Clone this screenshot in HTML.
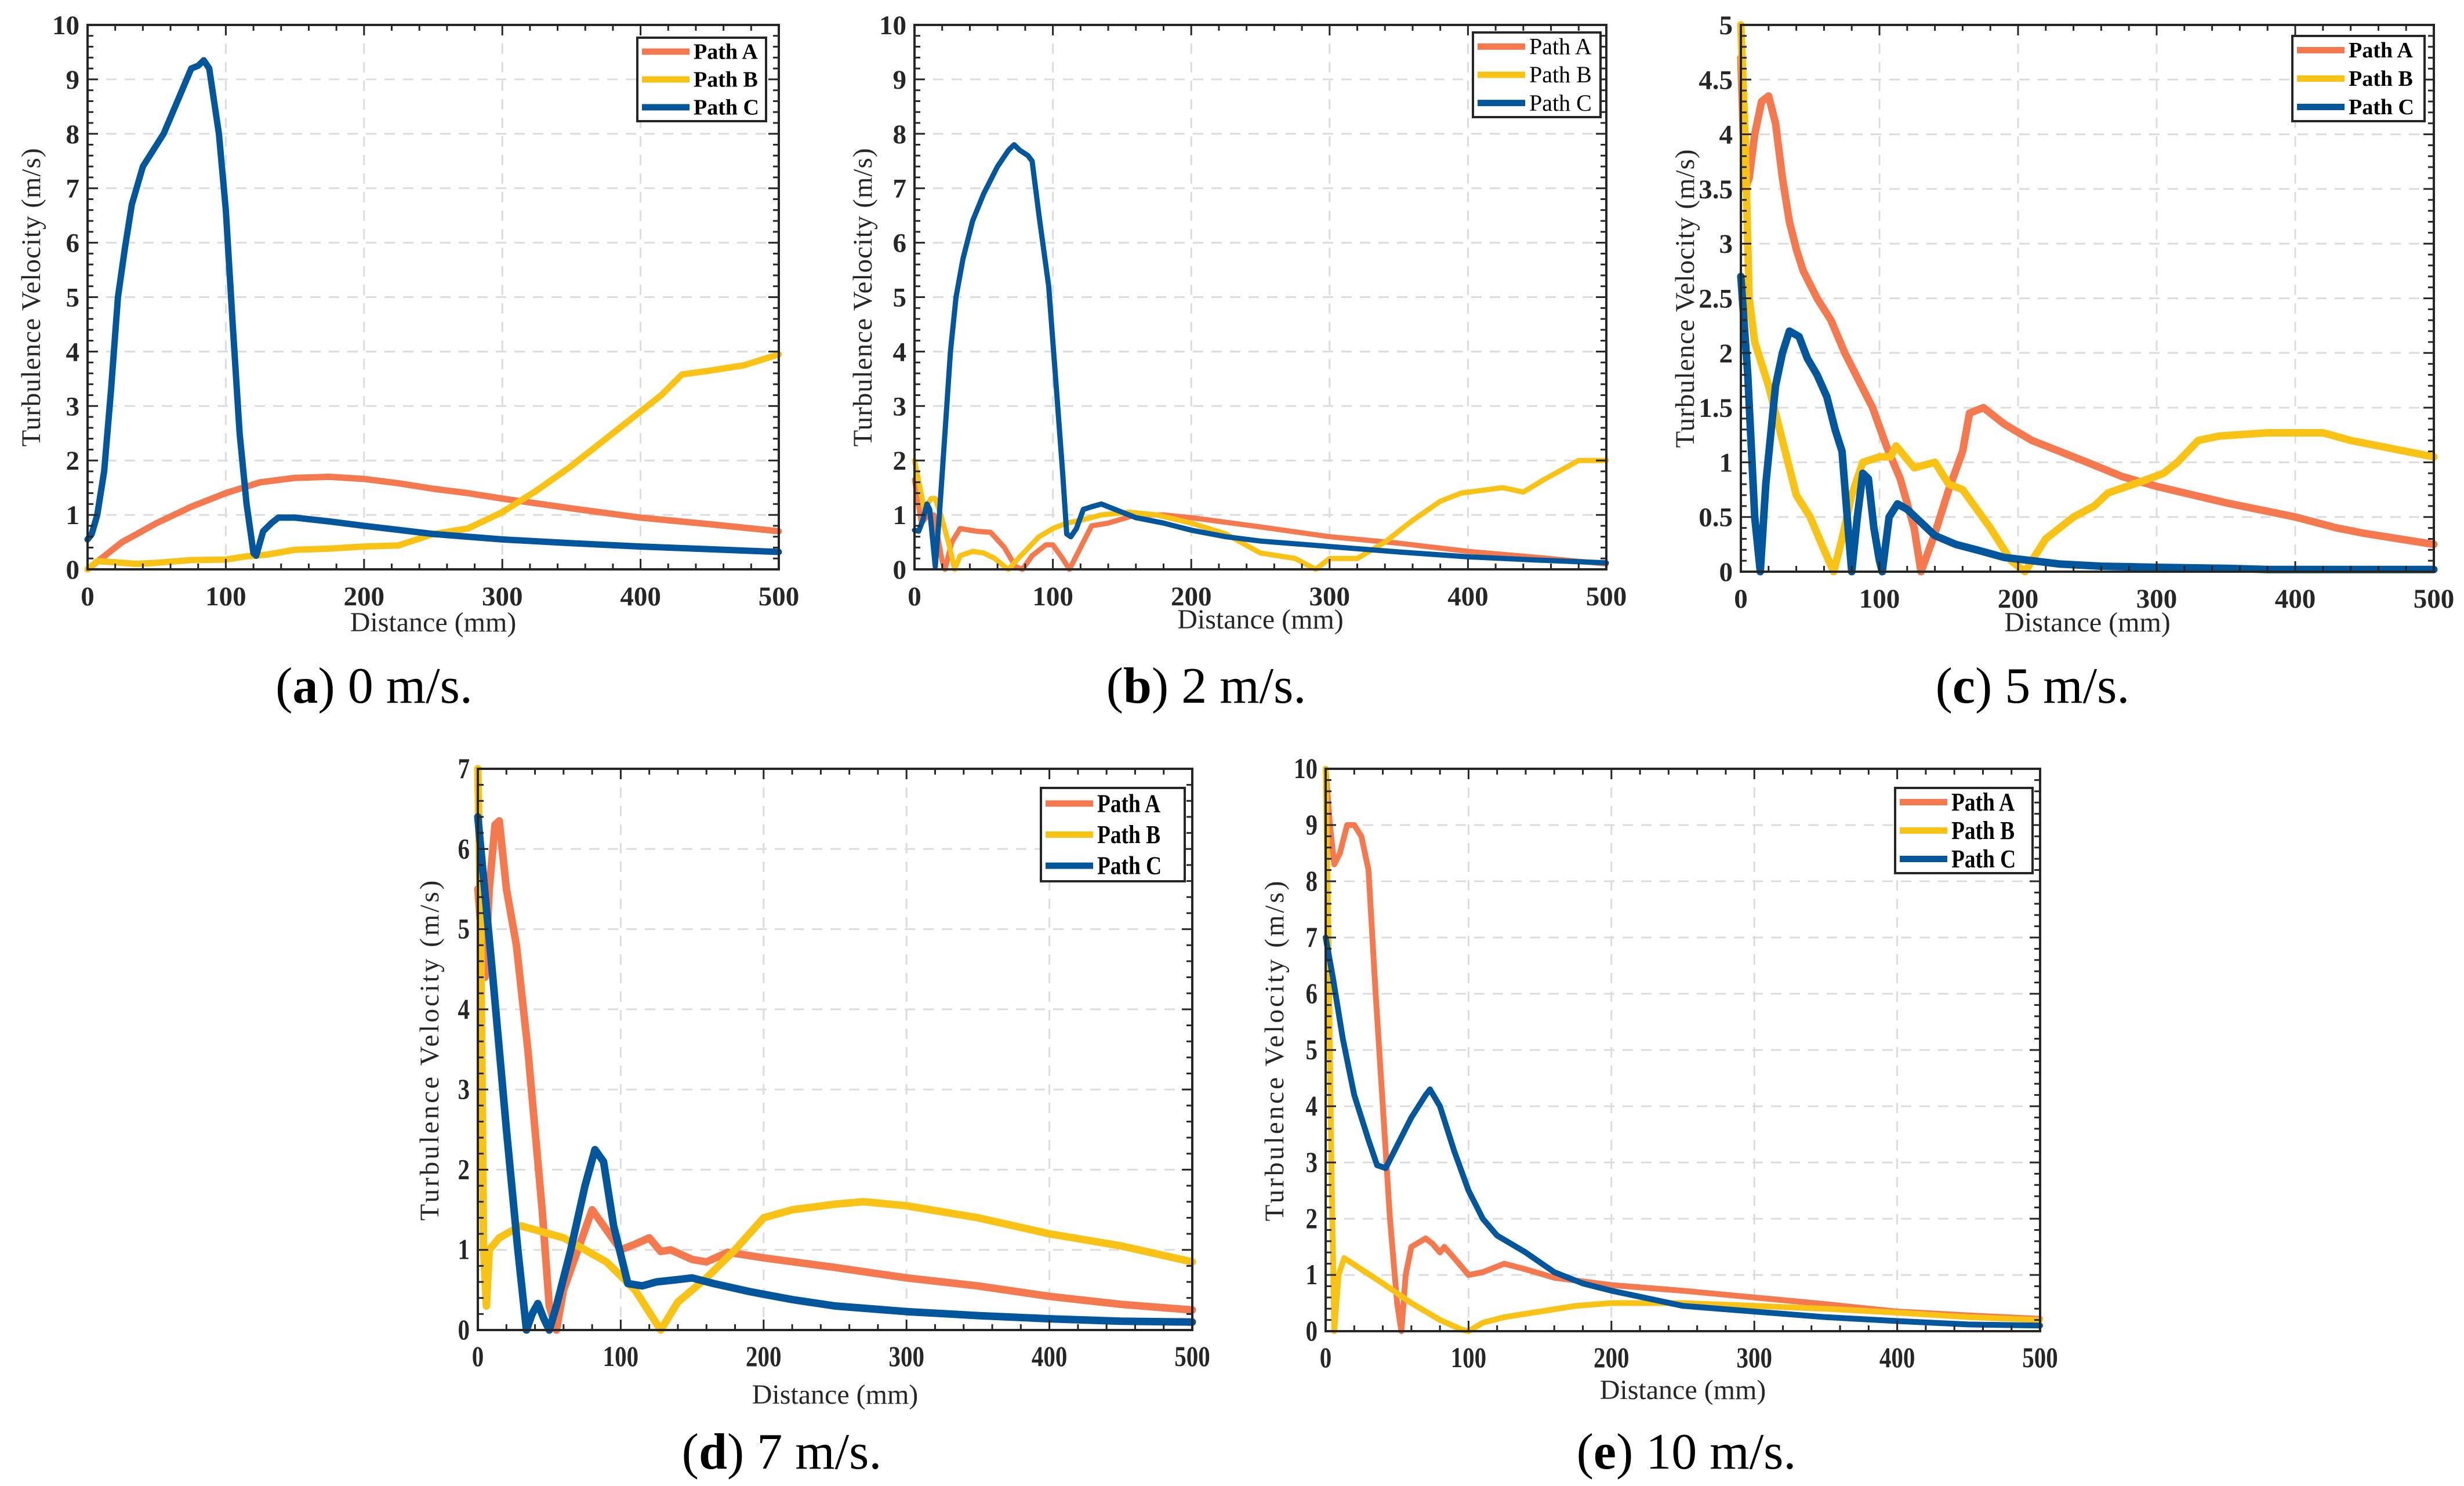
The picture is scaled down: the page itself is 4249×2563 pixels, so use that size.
<!DOCTYPE html>
<html><head><meta charset="utf-8">
<style>
html,body{margin:0;padding:0;background:#fff;}
body{width:4249px;height:2563px;overflow:hidden;position:relative;}
svg{position:absolute;left:0;top:0;}
</style></head>
<body>
<svg id="fig" width="4249" height="2563" viewBox="0 0 4249 2563" xmlns="http://www.w3.org/2000/svg"></svg>
<script>
// ---------- DATA ----------
const seriesNames = ["Path A","Path B","Path C"];
// Panel (a) 0 m/s
const aA_x=[0,10,25,50,75,100,125,150,175,200,225,250,275,300,350,400,450,500];
const aA_y=[0,0.2,0.5,0.85,1.15,1.4,1.6,1.68,1.7,1.66,1.58,1.48,1.4,1.3,1.12,0.95,0.83,0.7];
const aB_x=[0,7,20,35,50,75,100,115,130,150,175,200,225,250,275,300,325,350,375,400,415,430,450,475,500];
const aB_y=[0,0.15,0.13,0.1,0.12,0.17,0.18,0.24,0.27,0.36,0.38,0.42,0.44,0.65,0.75,1.05,1.45,1.9,2.4,2.9,3.2,3.58,3.65,3.75,3.95];
const aC_x=[0,3,7,12,17,22,27,32,40,45,55,65,75,80,84,88,95,100,105,110,115,120,122,127,133,138,150,175,200,250,300,350,400,450,500];
const aC_y=[0.55,0.65,1.0,1.8,3.3,5.0,5.9,6.7,7.4,7.6,8.0,8.6,9.2,9.25,9.35,9.2,8.0,6.6,4.5,2.5,1.2,0.3,0.25,0.7,0.85,0.95,0.95,0.88,0.8,0.65,0.55,0.48,0.42,0.37,0.32];
// Panel (b) 2 m/s
const bA_x=[0,5,10,14,20,22,27,33,40,45,55,65,73,78,85,95,100,107,112,120,128,140,160,180,200,250,300,350,400,450,500];
const bA_y=[1.65,0.85,1.0,1.0,0.15,0,0.5,0.75,0.72,0.7,0.68,0.4,0.05,0,0.25,0.45,0.45,0.2,0,0.4,0.8,0.85,1.0,1.0,0.95,0.78,0.6,0.48,0.33,0.22,0.1];
const bB_x=[0,4,7,12,15,19,25,29,33,42,50,58,65,68,75,90,100,110,120,135,155,175,200,225,250,275,290,300,320,340,360,380,395,410,425,440,455,480,500];
const bB_y=[2.0,1.5,1.1,1.3,1.3,1.0,0.45,0,0.25,0.33,0.3,0.2,0.05,0,0.2,0.6,0.75,0.85,0.9,1.0,1.05,1.0,0.85,0.65,0.3,0.2,0,0.2,0.2,0.5,0.9,1.25,1.4,1.45,1.5,1.42,1.65,2.0,2.0];
const bC_x=[0,3,6,9,11,15,18,22,26,30,35,42,50,60,68,72,76,82,85,90,97,102,107,110,113,117,122,128,135,145,160,180,200,225,250,300,350,400,450,500];
const bC_y=[0.72,0.7,0.9,1.2,1.1,0.05,1.0,2.5,4.0,5.0,5.7,6.4,6.9,7.4,7.7,7.8,7.7,7.6,7.5,6.5,5.2,3.5,1.8,0.65,0.6,0.75,1.1,1.15,1.2,1.1,0.95,0.85,0.72,0.6,0.52,0.42,0.32,0.23,0.17,0.12];
// Panel (c) 5 m/s
const cA_x=[0,3,6,10,15,20,25,30,35,40,45,55,65,75,85,95,105,115,125,130,140,150,160,165,175,190,210,230,250,275,300,350,400,430,450,500];
const cA_y=[4.7,3.5,3.6,4.0,4.3,4.35,4.1,3.6,3.2,2.95,2.75,2.5,2.3,2.0,1.75,1.5,1.15,0.85,0.4,0,0.35,0.75,1.1,1.45,1.5,1.35,1.2,1.1,1.0,0.87,0.78,0.63,0.5,0.4,0.35,0.25];
const cB_x=[0,3,6,10,20,30,40,50,60,67,73,80,88,100,108,112,125,140,150,160,180,195,205,220,240,255,265,290,305,315,330,345,380,420,440,460,500];
const cB_y=[5.0,4.0,2.5,2.1,1.7,1.2,0.7,0.5,0.2,0,0.3,0.7,1.0,1.05,1.05,1.15,0.95,1.0,0.8,0.75,0.4,0.1,0,0.3,0.5,0.6,0.72,0.83,0.9,1.0,1.2,1.24,1.27,1.27,1.2,1.15,1.05];
const cC_x=[0,5,10,14,18,25,30,35,42,48,55,62,68,73,78,80,84,88,92,96,100,102,107,113,120,130,140,155,170,190,210,230,260,300,350,380,500];
const cC_y=[2.7,1.8,0.5,0,0.8,1.7,2.0,2.2,2.15,1.95,1.8,1.6,1.3,1.1,0.3,0,0.5,0.9,0.85,0.4,0.1,0,0.5,0.62,0.57,0.45,0.33,0.25,0.2,0.13,0.1,0.07,0.05,0.04,0.03,0.02,0.02];
// Panel (d) 7 m/s
const dA_x=[0,5,8,12,15,20,27,35,45,50,55,60,70,80,88,100,110,120,128,135,150,160,175,200,250,300,350,400,450,500];
const dA_y=[5.5,4.4,5.5,6.3,6.35,5.5,4.8,3.5,1.5,0.3,0,0.5,1.0,1.5,1.3,1.0,1.07,1.15,0.98,1.0,0.88,0.85,0.97,0.9,0.78,0.65,0.55,0.42,0.32,0.25];
const dB_x=[0,2,4,6,8,15,25,30,40,50,60,75,90,110,128,140,160,180,200,220,250,270,300,350,400,450,500];
const dB_y=[7.0,5.0,1.0,0.3,1.0,1.15,1.25,1.3,1.25,1.2,1.15,1.0,0.85,0.5,0,0.35,0.65,1.0,1.4,1.5,1.57,1.6,1.55,1.4,1.2,1.05,0.85];
const dC_x=[0,10,20,28,34,38,42,46,50,55,65,75,82,88,95,105,115,125,140,150,165,190,220,250,300,350,400,450,500];
const dC_y=[6.4,4.5,2.5,1.0,0,0.2,0.33,0.15,0,0.3,1.0,1.8,2.25,2.1,1.3,0.58,0.55,0.6,0.63,0.65,0.58,0.48,0.38,0.3,0.23,0.18,0.14,0.11,0.1];
// Panel (e) 10 m/s
const eA_x=[0,3,6,10,15,20,25,30,35,40,45,50,53,56,60,70,75,80,83,90,100,110,120,125,140,160,200,250,300,350,400,450,500];
const eA_y=[10,9.0,8.3,8.5,9.0,9.0,8.8,8.2,6.0,4.0,2.0,0.5,0,1.0,1.5,1.65,1.55,1.4,1.5,1.3,1.0,1.05,1.15,1.2,1.1,0.95,0.82,0.72,0.6,0.48,0.35,0.28,0.22];
const eB_x=[0,2,4,6,9,13,25,40,60,80,95,100,110,125,150,175,200,225,250,300,350,400,450,500];
const eB_y=[10,7,3,0,1.0,1.3,1.1,0.85,0.5,0.2,0.03,0,0.15,0.25,0.35,0.45,0.5,0.5,0.5,0.45,0.4,0.33,0.25,0.2];
const eC_x=[0,5,12,20,30,36,42,50,60,70,73,80,90,100,110,120,140,160,180,200,250,300,350,400,450,500];
const eC_y=[7.0,6.3,5.2,4.2,3.4,2.95,2.9,3.3,3.8,4.2,4.3,4.0,3.2,2.5,2.0,1.7,1.4,1.05,0.85,0.72,0.45,0.35,0.25,0.18,0.12,0.1];
const xTicks=[0,100,200,300,400,500];
const yTicksA=[0,1,2,3,4,5,6,7,8,9,10];
const yTicksC=[0,0.5,1,1.5,2,2.5,3,3.5,4,4.5,5];
const yTicksD=[0,1,2,3,4,5,6,7];
const captionLetters=["a","b","c","d","e"];
const captionSpeeds=["0","2","5","7","10"];

// ---------- LAYOUT ----------
const COLORS=["#F4794E","#F9C316","#02569B"];
const panels=[
 {id:"a",L:151,R:1343,T:43,B:982,ymax:10,ticks:yTicksA,minorY:0.2,data:[[aA_x,aA_y],[aB_x,aB_y],[aC_x,aC_y]],lw:11,leg:[1099,65,1321,209],bold:true,ylx:54,xly:1073,capX:645,capY:1212},
 {id:"b",L:1577,R:2770,T:43,B:982,ymax:10,ticks:yTicksA,minorY:0.2,data:[[bA_x,bA_y],[bB_x,bB_y],[bC_x,bC_y]],lw:9,leg:[2540,56,2760,202],bold:false,ylx:1488,xly:1068,capX:2080,capY:1212},
 {id:"c",L:3002,R:4197,T:43,B:986,ymax:5,ticks:yTicksC,minorY:0.1,data:[[cA_x,cA_y],[cB_x,cB_y],[cC_x,cC_y]],lw:13,leg:[3953,62,4181,209],bold:true,ylx:2906,xly:1073,capX:3505,capY:1212},
 {id:"d",L:824,R:2056,T:1326,B:2294,ymax:7,ticks:yTicksD,minorY:0.2,data:[[dA_x,dA_y],[dB_x,dB_y],[dC_x,dC_y]],lw:13,leg:[1795,1359,2043,1520],bold:true,ylx:741,xly:2405,capX:1348,capY:2533},
 {id:"e",L:2286,R:3518,T:1326,B:2296,ymax:10,ticks:yTicksA,minorY:0.2,data:[[eA_x,eA_y],[eB_x,eB_y],[eC_x,eC_y]],lw:10,leg:[3268,1359,3505,1506],bold:true,ylx:2198,xly:2397,capX:2908,capY:2533}
];
const NS="http://www.w3.org/2000/svg";
const svg=document.getElementById("fig");
function mk(tag,attrs,parent){const e=document.createElementNS(NS,tag);for(const k in attrs)e.setAttribute(k,attrs[k]);(parent||svg).appendChild(e);return e;}

panels.forEach((p,pi)=>{
  const g=mk("g",{});
  
  
  const xs=v=>p.L+(v/500)*(p.R-p.L);
  const ys=v=>p.B-(v/p.ymax)*(p.B-p.T);
  xTicks.forEach(t=>{ if(t>0&&t<500){const l=mk("line",{x1:xs(t),x2:xs(t),y1:p.T,y2:p.B,stroke:"#dcdcdc","stroke-width":3,"stroke-dasharray":"18 14"},g);
    
    }});
  p.ticks.forEach(t=>{ if(t>0&&t<p.ymax){const l=mk("line",{x1:p.L,x2:p.R,y1:ys(t),y2:ys(t),stroke:"#dcdcdc","stroke-width":3,"stroke-dasharray":"18 14"},g);
    
    }});
  p.data.forEach((d,si)=>{
    const pts=d[0].map((x,i)=>xs(x).toFixed(1)+","+ys(d[1][i]).toFixed(1)).join(" ");
    const pl=mk("polyline",{points:pts,fill:"none",stroke:COLORS[si],"stroke-width":p.lw,"stroke-linejoin":"round","stroke-linecap":"round"},g);
    
    
  });
  const tk=mk("g",{stroke:"#262626","stroke-width":3},g);
  
  
  for(let v=0;v<=500.001;v+=20){const major=Math.abs(v%100)<1e-6;const len=major?18:10;
    mk("line",{x1:xs(v),x2:xs(v),y1:p.B,y2:p.B-len},tk);mk("line",{x1:xs(v),x2:xs(v),y1:p.T,y2:p.T+len},tk);}
  for(let v=0;v<=p.ymax+1e-6;v+=p.minorY){const major=p.ticks.some(t=>Math.abs(t-v)<1e-6);const len=major?18:10;
    mk("line",{x1:p.L,x2:p.L+len,y1:ys(v),y2:ys(v)},tk);mk("line",{x1:p.R,x2:p.R-len,y1:ys(v),y2:ys(v)},tk);}
  const box=mk("rect",{x:p.L,y:p.T,width:p.R-p.L,height:p.B-p.T,fill:"none",stroke:"#262626","stroke-width":4},g);
  
  
  const condensed=(p.id==="d"||p.id==="e");
  xTicks.forEach(t=>{const tx=mk("text",{x:xs(t),y:p.B+62,"text-anchor":"middle","font-family":"Liberation Serif, serif","font-weight":"bold","font-size":condensed?50:47,fill:"#262626"},g);
    if(condensed)tx.setAttribute("transform",`translate(${xs(t)},0) scale(0.82,1) translate(${-xs(t)},0)`);
    tx.textContent=String(t);
    
    });
  p.ticks.forEach(t=>{const tx=mk("text",{x:p.L-14,y:ys(t)+16,"text-anchor":"end","font-family":"Liberation Serif, serif","font-weight":"bold","font-size":condensed?50:47,fill:"#262626"},g);
    if(condensed)tx.setAttribute("transform",`translate(${p.L-14},0) scale(0.82,1) translate(${-(p.L-14)},0)`);
    tx.textContent=String(t);
    
    });
  const xt=mk("text",{x:(p.L+p.R)/2,y:p.xly+16,"text-anchor":"middle","font-family":"Liberation Serif, serif","font-size":48,fill:"#262626"},g);
  xt.textContent="Distance (mm)";
  
  
  const cy=(p.T+p.B)/2;
  const yt=mk("text",{x:p.ylx,y:cy,"text-anchor":"middle","font-family":"Liberation Serif, serif","font-size":47,fill:"#262626","letter-spacing":condensed?4:1,transform:`rotate(-90 ${p.ylx} ${cy}) translate(0 15)`},g);
  yt.textContent="Turbulence Velocity (m/s)";
  
  
  const [lx1,ly1,lx2,ly2]=p.leg;
  const lg=mk("g",{},g);
  
  
  mk("rect",{x:lx1,y:ly1,width:lx2-lx1,height:ly2-ly1,fill:"#fff",stroke:"#262626","stroke-width":4},lg);
  const rh=(ly2-ly1)/3;
  seriesNames.forEach((n,si)=>{
    const yy=ly1+rh*(si+0.5);
    const ent=mk("g",{},lg);
    
    
    mk("line",{x1:lx1+8,x2:lx1+90,y1:yy,y2:yy,stroke:COLORS[si],"stroke-width":11},ent);
    const fs=p.bold?(condensed?44:38):40;
    const t=mk("text",{x:lx1+97,y:yy+fs*0.33,"font-family":"Liberation Serif, serif","font-weight":p.bold?"bold":"normal","font-size":fs,fill:"#000"},ent);
    if(condensed)t.setAttribute("transform",`translate(${lx1+97},0) scale(0.85,1) translate(${-(lx1+97)},0)`);
    t.textContent=n;
  });
  const cap=mk("text",{x:p.capX,y:p.capY,"text-anchor":"middle","font-family":"Liberation Serif, serif","font-size":88,fill:"#000"},svg);
  
  
  const s1=mk("tspan",{},cap);s1.textContent="(";
  const s2=mk("tspan",{"font-weight":"bold"},cap);s2.textContent=captionLetters[pi];
  const s3=mk("tspan",{},cap);s3.textContent=") "+captionSpeeds[pi]+" m/s.";
});
</script>
</body></html>
